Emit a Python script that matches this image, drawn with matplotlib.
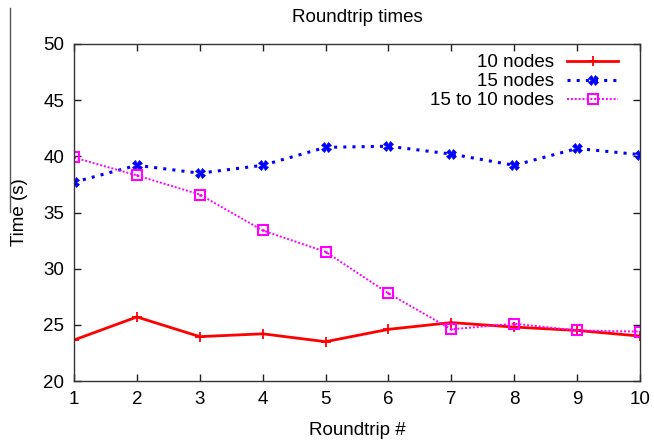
import matplotlib
matplotlib.use("Agg")
import matplotlib.pyplot as plt
from matplotlib.lines import Line2D

plt.rcParams['font.family'] = ['Liberation Sans', 'DejaVu Sans']

rounds = [1, 2, 3, 4, 5, 6, 7, 8, 9, 10]
nodes10 = [23.65, 25.7, 23.95, 24.2, 23.5, 24.6, 25.2, 24.8, 24.5, 24.0]
nodes15 = [37.7, 39.2, 38.5, 39.2, 40.8, 40.9, 40.2, 39.2, 40.7, 40.15]
nodes15to10 = [39.9, 38.3, 36.6, 33.4, 31.5, 27.8, 24.6, 25.1, 24.5, 24.4]
labels = ["10 nodes", "15 nodes", "15 to 10 nodes"]

FS = 13.5
fig = plt.figure(figsize=(6.54, 4.41), dpi=100)
ax = fig.add_axes([74/654, 1-381/441, (640-74)/654, (381-44)/441])

ax.plot(rounds, nodes10, color='#ff0000', lw=2.0, ls='-', marker='+', ms=7,
        mew=1.3, label=labels[0])
ax.plot(rounds, nodes15, color='#0000ff', lw=2.2, ls=(0, (1, 2)), marker='X', ms=7,
        mew=0.5, mfc='#0000ff', label=labels[1])
ax.plot(rounds, nodes15to10, color='#ff00ff', lw=1.4, ls=(0, (1, 1)), marker='s', ms=6.5,
        mew=1.5, mfc='none', label=labels[2])
ax.plot(rounds, nodes15to10, ls='none', marker='.', ms=2, color='#ff00ff')

ax.set_xlim(1, 10)
ax.set_ylim(20, 50)
ax.set_xticks(rounds)
ax.set_yticks([20, 25, 30, 35, 40, 45, 50])
ax.tick_params(direction='in', length=5, width=1, top=True, right=True,
               labelsize=FS, pad=7, colors='#222222')
ax.tick_params(axis='x', labelcolor='black')
ax.tick_params(axis='y', labelcolor='black')
for s in ax.spines.values():
    s.set_linewidth(1.0)
    s.set_color('#333333')

ax.set_title("Roundtrip times", fontsize=FS, pad=16)
ax.set_xlabel("Roundtrip #", fontsize=FS, labelpad=10)
ax.set_ylabel("Time (s)", fontsize=FS, labelpad=11)

leg = ax.legend(loc='upper right', bbox_to_anchor=(618/654, 1-54/441),
                bbox_transform=fig.transFigure, frameon=False, markerfirst=False,
                fontsize=FS, handlelength=2.7, labelspacing=0.1, handletextpad=0.7,
                borderpad=0, borderaxespad=0)
for t in leg.get_texts():
    t.set_ha('right')

fig.add_artist(Line2D([9.5/654, 9.5/654], [1-8/441, 1-212/441], transform=fig.transFigure,
                      color='#555555', lw=1.0))

fig.savefig("out.png", dpi=100)
